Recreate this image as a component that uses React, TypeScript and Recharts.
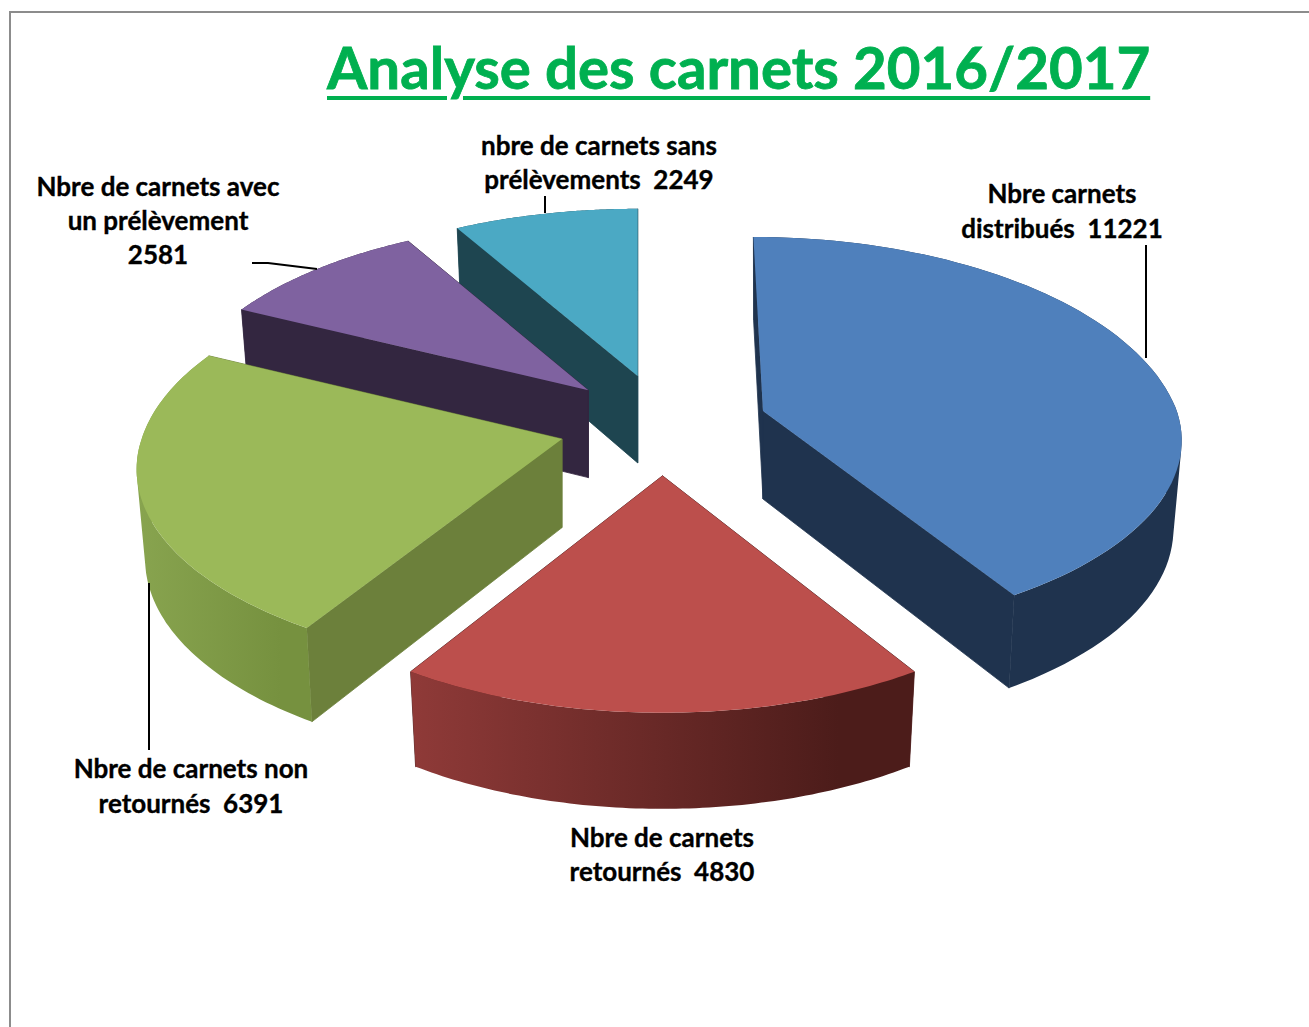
import React from "react";
import { Pie, PieChart } from "recharts";

// listed back to front, so the nearer slices paint over the farther ones
const CATEGORIES = [
  "nbre de carnets sans prélèvements",
  "Nbre de carnets avec un prélèvement",
  "Nbre de carnets non retournés",
  "Nbre de carnets retournés",
  "Nbre carnets distribués",
];
const VALUES = [2249, 2581, 6391, 4830, 11221];
const LABEL_TEXT = [
  ["nbre de carnets sans", "prélèvements"],
  ["Nbre de carnets avec", "un prélèvement", ""],
  ["Nbre de carnets non", "retournés"],
  ["Nbre de carnets", "retournés"],
  ["Nbre carnets", "distribués"],
];

const TOP_COLORS = ["#4BA9C4", "#7F62A0", "#9BB959", "#BC4F4C", "#4F80BC"];
const CUT_COLORS = ["#1E4550", "#332640", "#6C803B", "#4C1C1A", "#1F334E"];
const WALL_FROM = ["#1E4550", "#332640", "#88A44F", "#8F3A38", "#1F334E"];
const WALL_TO = ["#1E4550", "#332640", "#76913F", "#4C1C1A", "#1F334E"];

const LABEL_POS = [
  { x: 599, y: 155, gap: 34, leader: "M545 196V213" },
  { x: 158, y: 196, gap: 34, leader: "M252 263H268L317 269" },
  { x: 191, y: 778, gap: 35, leader: "M149 583V750" },
  { x: 662, y: 847, gap: 34, leader: "" },
  { x: 1062, y: 203, gap: 35, leader: "M1146 245V358" },
];

// small per-slice corrections of the projection
const LEAN = [0, 0, 0, 0, 0.055];
const NUDGE_X = [2, 2, 0, 0, 0];
const SCALE_X = [1, 1, 1.018, 1.005, 1.002];
const SCALE_BACK = [0.96, 0.97, 1, 1, 1];
const SCALE_FRONT = [1, 1, 0.965, 1, 0.94];

const chartData = CATEGORIES.map((name, i) => ({ name, value: VALUES[i] }));

const FLATTEN = 0.486; // vertical squash of the ground plane
const PERSPECTIVE = 0.153;
const EXPLODE = 0.253;
const rad = Math.PI / 180;

type Pt = { x: number; y: number };

const Slice = (props: any) => {
  const { cx, cy, outerRadius: R, startAngle, endAngle, index } = props;
  const mid = ((startAngle + endAngle) / 2) * rad;
  const ax = cx + EXPLODE * R * Math.cos(mid) + NUDGE_X[index];
  const ay = cy - EXPLODE * R * FLATTEN * Math.sin(mid);
  const depth = (y: number) => 87 + 0.027 * (y - 376);

  const top = (deg: number): Pt => {
    const u = Math.cos(deg * rad);
    const v = Math.sin(deg * rad);
    const den = 1 + PERSPECTIVE * v;
    const back = v > 0;
    const dy =
      ((-R * FLATTEN * v) / den) * (back ? SCALE_BACK[index] : SCALE_FRONT[index]);
    return {
      x: ax + ((R * u) / den) * SCALE_X[index] + (back ? LEAN[index] * dy : 0),
      y: ay + dy,
    };
  };
  const bottom = (p: Pt): Pt => ({
    x: ax + (p.x - ax) * 0.98,
    y: p.y + depth(p.y),
  });

  const arc: Pt[] = [];
  const steps = 80;
  for (let i = 0; i <= steps; i++) {
    arc.push(top(startAngle + ((endAngle - startAngle) * i) / steps));
  }
  const apex = { x: ax, y: ay };
  const apexLow = bottom(apex);
  const arcLow = arc.map(bottom);
  const toPath = (pts: Pt[]) =>
    "M" + pts.map((p) => `${p.x.toFixed(1)} ${p.y.toFixed(1)}`).join("L") + "Z";

  // the outer wall is a union of quads, all wound the same way so none cancels
  let wall = "";
  for (let i = 0; i < steps; i++) {
    const quad = [arc[i], arc[i + 1], arcLow[i + 1], arcLow[i]];
    let area = 0;
    quad.forEach((p, j) => {
      const q = quad[(j + 1) % 4];
      area += p.x * q.y - q.x * p.y;
    });
    wall += toPath(area < 0 ? quad.reverse() : quad);
  }
  const xs = arc.map((p) => p.x);
  const gradId = `wall-${index}`;

  return (
    <g>
      <defs>
        <linearGradient
          id={gradId}
          gradientUnits="userSpaceOnUse"
          x1={Math.min(...xs)}
          y1="0"
          x2={Math.max(...xs)}
          y2="0"
        >
          <stop offset="0%" stopColor={WALL_FROM[index]} />
          <stop offset="85%" stopColor={WALL_TO[index]} />
          <stop offset="100%" stopColor={WALL_TO[index]} />
        </linearGradient>
      </defs>
      <path
        d={toPath([apex, arc[0], arcLow[0], apexLow])}
        fill={CUT_COLORS[index]}
        stroke={CUT_COLORS[index]}
        strokeWidth={0.8}
      />
      <path
        d={toPath([apex, arc[steps], arcLow[steps], apexLow])}
        fill={CUT_COLORS[index]}
        stroke={CUT_COLORS[index]}
        strokeWidth={0.8}
      />
      <path d={wall} fill={`url(#${gradId})`} />
      <path d={toPath([apex, ...arc])} fill={TOP_COLORS[index]} />
    </g>
  );
};

const SliceLabel = (props: any) => {
  const { index } = props;
  const pos = LABEL_POS[index];
  const lines = [...LABEL_TEXT[index]];
  const last = lines.length - 1;
  lines[last] = lines[last] ? `${lines[last]}  ${VALUES[index]}` : `${VALUES[index]}`;
  return (
    <g>
      {pos.leader && (
        <path d={pos.leader} fill="none" stroke="#000" strokeWidth={2} />
      )}
      <text
        textAnchor="middle"
        fontFamily="Lato"
        fontWeight={700}
        fontSize={26}
        fill="#000"
        stroke="#000"
        strokeWidth={0.35}
        style={{ whiteSpace: "pre" }}
      >
        {lines.map((line, i) => (
          <tspan key={i} x={pos.x} y={pos.y + i * pos.gap}>
            {line}
          </tspan>
        ))}
      </text>
    </g>
  );
};

export default function App() {
  return (
    <div
      style={{
        position: "absolute",
        left: 0,
        top: 0,
        width: 1309,
        height: 1027,
        background: "#fff",
        overflow: "hidden",
      }}
    >
      <div
        style={{
          position: "absolute",
          left: 9,
          top: 11,
          width: 1300,
          height: 1016,
          borderTop: "2px solid #8c8c8c",
          borderLeft: "2px solid #8c8c8c",
          boxSizing: "border-box",
        }}
      />
      <PieChart
        width={1309}
        height={1027}
        margin={{ top: 0, right: 0, bottom: 0, left: 0 }}
      >
        <Pie
          data={chartData}
          dataKey="value"
          nameKey="name"
          cx={662.5}
          cy={425}
          outerRadius={413}
          startAngle={90}
          endAngle={450}
          stroke="none"
          shape={Slice}
          label={SliceLabel}
          labelLine={false}
          isAnimationActive={false}
        />
      </PieChart>
      <div
        style={{
          position: "absolute",
          left: 327,
          top: 29,
          fontFamily: "Lato",
          fontWeight: 700,
          fontSize: 58.2,
          lineHeight: "76px",
          color: "#00B050",
          WebkitTextStroke: "0.8px #00B050",
          textDecoration: "underline",
          textDecorationThickness: "4px",
          textUnderlineOffset: "7px",
          whiteSpace: "nowrap",
        }}
      >
        Analyse des carnets 2016/2017
      </div>
    </div>
  );
}
